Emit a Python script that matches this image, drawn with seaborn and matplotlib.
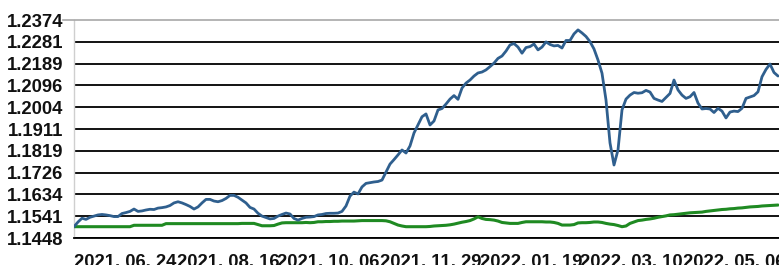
import matplotlib
matplotlib.use("Agg")
import matplotlib.pyplot as plt
import seaborn as sns
import pandas as pd
import numpy as np

# ---- data ----
blue_values = [
    1.1496, 1.1516, 1.1532, 1.1527, 1.1536, 1.1541, 1.1546, 1.1548, 1.1546, 1.1543,
    1.1539, 1.1539, 1.1552, 1.1556, 1.1561, 1.1571, 1.1561, 1.1563, 1.1567, 1.1570,
    1.1569, 1.1575, 1.1577, 1.1580, 1.1586, 1.1597, 1.1602, 1.1597, 1.1590, 1.1582,
    1.1571, 1.1580, 1.1597, 1.1612, 1.1612, 1.1605, 1.1602, 1.1607, 1.1616, 1.1629,
    1.1629, 1.1621, 1.1609, 1.1597, 1.1578, 1.1571, 1.1553, 1.1541, 1.1535, 1.1529,
    1.1531, 1.1541, 1.1548, 1.1554, 1.1550, 1.1531, 1.1524, 1.1531, 1.1536, 1.1537,
    1.1539, 1.1546, 1.1548, 1.1552, 1.1553, 1.1553, 1.1554, 1.1561, 1.1584, 1.1626,
    1.1643, 1.1635, 1.1665, 1.1680, 1.1683, 1.1686, 1.1688, 1.1694, 1.1728, 1.1762,
    1.1781, 1.1801, 1.1822, 1.1809, 1.1839, 1.1894, 1.1928, 1.1963, 1.1975, 1.1928,
    1.1945, 1.1992, 1.1998, 1.2017, 1.2038, 1.2053, 1.2037, 1.2085, 1.2106, 1.2119,
    1.2136, 1.2149, 1.2153, 1.2162, 1.2176, 1.2191, 1.2211, 1.2221, 1.2242, 1.2268,
    1.2274, 1.2259, 1.2233, 1.2257, 1.2261, 1.2272, 1.2247, 1.2259, 1.2281, 1.2270,
    1.2264, 1.2266, 1.2255, 1.2287, 1.2287, 1.2315, 1.2332, 1.2319, 1.2304, 1.2282,
    1.2251, 1.2204, 1.2148, 1.2034, 1.1852, 1.1758, 1.1822, 1.1992, 1.2038, 1.2055,
    1.2066, 1.2063, 1.2065, 1.2075, 1.2068, 1.2041, 1.2034, 1.2028, 1.2045, 1.2062,
    1.2119, 1.2077, 1.2055, 1.2041, 1.2048, 1.2066, 1.2021, 1.1996, 1.1998, 1.1996,
    1.1981, 1.1999, 1.1987, 1.1958, 1.1983, 1.1987, 1.1985, 1.1999, 1.2041, 1.2047,
    1.2053, 1.2069, 1.2133, 1.2164, 1.2187, 1.2151, 1.2136,
]

green_values = (
    [1.1496] * 15 + [1.1502] * 8 + [1.1509] * 19 + [
        1.1510, 1.1510, 1.1510, 1.1510, 1.1505, 1.1500, 1.1500, 1.1500, 1.1501, 1.1507,
        1.1512, 1.1513, 1.1513, 1.1513, 1.1513, 1.1513, 1.1514, 1.1513, 1.1514, 1.1517,
        1.1517, 1.1518, 1.1518, 1.1519, 1.1519, 1.1520, 1.1520, 1.1520, 1.1520, 1.1521,
        1.1522, 1.1522, 1.1522, 1.1522, 1.1522, 1.1522, 1.1521, 1.1517, 1.1510, 1.1503,
        1.1499, 1.1496, 1.1496, 1.1496, 1.1496, 1.1496, 1.1496, 1.1497, 1.1499, 1.1500,
        1.1501, 1.1502, 1.1504, 1.1507, 1.1511, 1.1515, 1.1518, 1.1522, 1.1529, 1.1538,
        1.1531, 1.1527, 1.1526, 1.1524, 1.1520, 1.1514, 1.1512, 1.1510, 1.1510, 1.1510,
        1.1514, 1.1517, 1.1517, 1.1517, 1.1517, 1.1517, 1.1516, 1.1516, 1.1514, 1.1510,
        1.1503, 1.1503, 1.1503, 1.1505, 1.1512, 1.1513, 1.1513, 1.1514, 1.1516, 1.1516,
        1.1514, 1.1510, 1.1507, 1.1505, 1.1501, 1.1496, 1.1499, 1.1510, 1.1516, 1.1522,
        1.1524, 1.1527, 1.1529, 1.1532, 1.1536, 1.1539, 1.1542, 1.1546, 1.1547, 1.1549,
        1.1551, 1.1553, 1.1555, 1.1556, 1.1557, 1.1558, 1.1561, 1.1563, 1.1565, 1.1567,
        1.1569, 1.1570, 1.1572, 1.1573, 1.1575, 1.1576, 1.1578, 1.1580, 1.1581, 1.1582,
        1.1584, 1.1585, 1.1586, 1.1587, 1.1588,
    ]
)

y_ticks = [1.1448, 1.1541, 1.1634, 1.1726, 1.1819, 1.1911, 1.2004, 1.2096, 1.2189, 1.2281, 1.2374]
x_tick_labels = ["2021. 06. 24", "2021. 08. 16", "2021. 10. 06", "2021. 11. 29",
                 "2022. 01. 19", "2022. 03. 10", "2022. 05. 06"]
x_tick_pos = [12.75, 38.5, 63.5, 89.25, 114.25, 139.25, 165.0]

n = min(len(blue_values), len(green_values))
df = pd.DataFrame({
    "idx": np.arange(n),
    "blue": blue_values[:n],
    "green": green_values[:n],
})

sns.set_style("white")
plt.rcParams["font.family"] = ["Liberation Sans", "DejaVu Sans"]

W, H = 779, 265
fig = plt.figure(figsize=(W / 100, H / 100), dpi=100)
ax = fig.add_axes([74 / W, 1 - 238 / H, (W - 74) / W, 218 / H])

sns.lineplot(data=df, x="idx", y="green", ax=ax, color="#1f8a22", linewidth=2.2, zorder=3)
sns.lineplot(data=df, x="idx", y="blue", ax=ax, color="#2f5f8e", linewidth=2.0, zorder=4)

ax.set_xlim(0, (W - 74) / 4)
ax.set_ylim(y_ticks[0], y_ticks[-1])
ax.set_yticks(y_ticks)
ax.set_yticklabels([f"{v:.4f}" for v in y_ticks])
ax.set_xticks(x_tick_pos)
ax.set_xticklabels(x_tick_labels)
ax.set_xlabel("")
ax.set_ylabel("")

ax.yaxis.grid(True, color="black", linewidth=1.3)
ax.xaxis.grid(False)
ax.get_ygridlines()[-1].set_visible(False)
ax.set_axisbelow(True)

for lab in ax.get_yticklabels() + ax.get_xticklabels():
    lab.set_fontweight("bold")
    lab.set_fontsize(13.3)
    lab.set_color("#111111")

ax.tick_params(axis="y", length=0, pad=8)
ax.tick_params(axis="x", direction="inout", length=13, width=1.2, color="#222222", pad=5)

ax.spines["top"].set_color("#a8a8a8")
ax.spines["top"].set_linewidth(1.2)
ax.spines["top"].set_bounds(-2.75, (W - 74) / 4)
ax.spines["left"].set_color("#cfcfcf")
ax.spines["left"].set_linewidth(1.0)
ax.spines["bottom"].set_color("black")
ax.spines["bottom"].set_linewidth(1.3)
ax.spines["right"].set_visible(False)

fig.savefig("out.png", dpi=100)
